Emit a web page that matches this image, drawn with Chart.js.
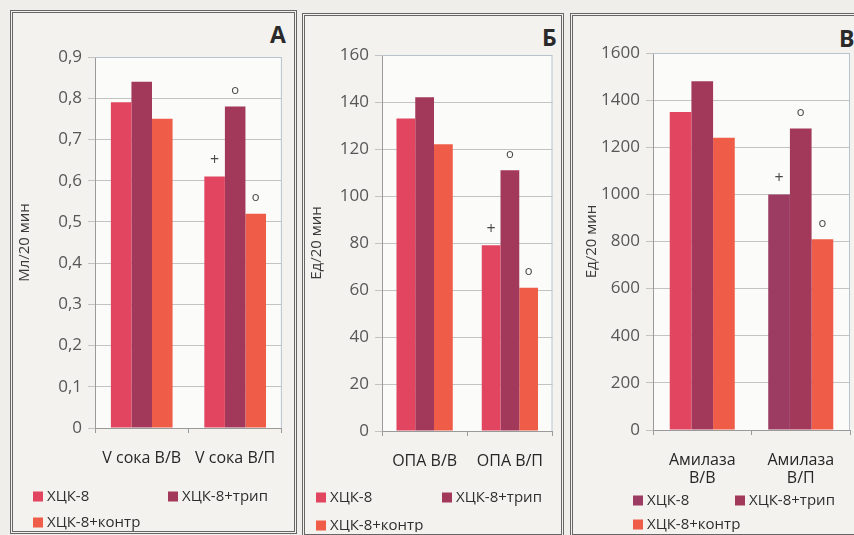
<!DOCTYPE html>
<html>
<head>
<meta charset="utf-8">
<script src="https://cdn.jsdelivr.net/npm/chart.js@4"></script>
<style>
  html, body { margin: 0; padding: 0; }
  body { width: 854px; height: 535px; background: #efeeeb; position: relative; overflow: hidden;
         font-family: "Open Sans", "Noto Sans", sans-serif; }
  .panel { position: absolute; box-sizing: border-box; border: 3px double #666; background: #f3f2ef; }
  .letter { position: absolute; font-weight: bold; font-size: 23px; color: #2a2a2a; }
  canvas { position: absolute; }
</style>
</head>
<body>
<div class="panel" style="left:10px;top:10px;width:287px;height:524px;"></div>
<div class="panel" style="left:302px;top:13px;width:262px;height:524px;"></div>
<div class="panel" style="left:570px;top:13px;width:300px;height:524px;"></div>
<div class="letter" style="left:270px;top:18px;">А</div>
<div class="letter" style="left:542px;top:21px;">Б</div>
<div class="letter" style="left:839px;top:22px;">В</div>
<canvas id="chA" width="280" height="518" style="left:14px;top:14px;"></canvas>
<canvas id="chB" width="255" height="515" style="left:306px;top:17px;"></canvas>
<canvas id="chC" width="279" height="515" style="left:575px;top:17px;"></canvas>
<script>
// Series names shared by all three panels
const seriesNames = ['ХЦК-8', 'ХЦК-8+трип', 'ХЦК-8+контр'];

// Panel А: volume of juice
const categoriesA = ['V сока В/В', 'V сока В/П'];
const hckA   = [0.79, 0.61];
const tripA  = [0.84, 0.78];
const contrA = [0.75, 0.52];
const marksHckA   = ['', '+'];
const marksTripA  = ['', 'o'];
const marksContrA = ['', 'o'];
const ticksA = { max: 0.9, step: 0.1 };

// Panel Б: ОПА
const categoriesB = ['ОПА В/В', 'ОПА В/П'];
const hckB   = [133, 79];
const tripB  = [142, 111];
const contrB = [122, 61];
const marksHckB   = ['', '+'];
const marksTripB  = ['', 'o'];
const marksContrB = ['', 'o'];
const ticksB = { max: 160, step: 20 };

// Panel В: amylase
const categoriesC = [['Амилаза', 'В/В'], ['Амилаза', 'В/П']];
const hckC   = [1350, 1000];
const tripC  = [1480, 1280];
const contrC = [1240, 810];
const marksHckC   = ['', '+'];
const marksTripC  = ['', 'o'];
const marksContrC = ['', 'o'];
const ticksC = { max: 1600, step: 200 };

const PINK = '#e2455f', PLUM = '#a3395a', CORAL = '#ef5c47', PLUM2 = '#9c3c62';
const FONT = '"Open Sans", "Noto Sans", sans-serif';

// Significance marks above bars, plus plot frame and custom two-column legend
const decorPlugin = {
  id: 'decor',
  beforeDraw(chart) {
    const a = chart.chartArea, ctx = chart.ctx;
    ctx.save();
    ctx.fillStyle = '#fbfbfa';
    ctx.fillRect(a.left, a.top, a.right - a.left, a.bottom - a.top);
    ctx.restore();
  },
  afterDraw(chart, args, opts) {
    const a = chart.chartArea, ctx = chart.ctx;
    ctx.save();
    ctx.strokeStyle = '#b9c3d0';
    ctx.lineWidth = 1;
    ctx.beginPath();
    ctx.moveTo(a.left, a.top + 0.5); ctx.lineTo(a.right - 0.5, a.top + 0.5); ctx.lineTo(a.right - 0.5, a.bottom);
    ctx.stroke();

    // marks
    ctx.fillStyle = '#4a4a4a';
    ctx.textAlign = 'center';
    ctx.textBaseline = 'middle';
    chart.data.datasets.forEach((ds, di) => {
      const meta = chart.getDatasetMeta(di);
      (ds.marks || []).forEach((m, i) => {
        if (!m) return;
        const bar = meta.data[i];
        ctx.font = (m === '+' ? '16px ' : '13px ') + FONT;
        ctx.fillText(m, bar.x, bar.y - 16);
      });
    });

    // legend
    const L = opts.legend;
    ctx.font = '15px ' + FONT;
    ctx.textAlign = 'left';
    const slots = [[L.x1, L.y1], [L.x2, L.y1], [L.x1, L.y2]];
    chart.data.datasets.forEach((ds, di) => {
      const [x, y] = slots[di];
      ctx.fillStyle = ds.legendColor || ds.backgroundColor;
      ctx.fillRect(x, y - 4.5, 10, 10);
      ctx.fillStyle = '#2e2e2e';
      ctx.fillText(ds.label, x + 14, y + 1);
    });
    ctx.restore();
  }
};

function makeChart(id, box, area, cats, values, marks, colors, legendColors, ticks, yTitle, titlePad, legend) {
  const xH = 70;
  const fmt = v => {
    if (Math.abs(v) < 1e-9) return '0';
    return ticks.step < 1 ? v.toFixed(1).replace('.', ',') : String(Math.round(v));
  };
  return new Chart(document.getElementById(id), {
    type: 'bar',
    data: {
      labels: cats,
      datasets: values.map((v, i) => ({
        label: seriesNames[i],
        data: v,
        marks: marks[i],
        backgroundColor: colors[i],
        legendColor: legendColors[i],
        borderWidth: 0,
        categoryPercentage: 0.66,
        barPercentage: 1.0
      }))
    },
    options: {
      responsive: false,
      animation: false,
      devicePixelRatio: 1,
      layout: {
        padding: {
          left: 0,
          top: area.t - box.y,
          right: box.x + box.w - area.r,
          bottom: box.y + box.h - area.b - xH
        }
      },
      plugins: {
        legend: { display: false },
        tooltip: { enabled: false },
        decor: { legend }
      },
      scales: {
        x: {
          afterFit(s) { s.height = xH; },
          grid: { drawOnChartArea: false, drawTicks: true, tickLength: 5, offset: true, color: '#9a9a9a' },
          border: { color: '#9a9a9a' },
          ticks: { color: '#262626', font: { family: FONT, size: 16, lineHeight: 1.15 }, padding: 16, maxRotation: 0, autoSkip: false }
        },
        y: {
          min: 0, max: ticks.max,
          afterFit(s) { s.width = area.l - box.x; },
          grid: { color: '#c3c3c3', tickLength: 7, drawTicks: true },
          border: { color: '#9a9a9a' },
          ticks: { stepSize: ticks.step, color: '#575757', font: { family: FONT, size: 17 }, padding: 6, callback: fmt },
          title: { display: true, text: yTitle, color: '#3a3a3a', font: { family: FONT, size: 15 }, padding: { top: titlePad, bottom: 0 } }
        }
      }
    },
    plugins: [decorPlugin]
  });
}

makeChart('chA',
  { x: 14, y: 14, w: 280, h: 518 }, { l: 95, r: 283, t: 57, b: 428 },
  categoriesA, [hckA, tripA, contrA], [marksHckA, marksTripA, marksContrA],
  [PINK, PLUM, CORAL], [PINK, PLUM, CORAL], ticksA, 'Мл/20 мин', 2,
  { x1: 19, x2: 154, y1: 482, y2: 508 });

makeChart('chB',
  { x: 306, y: 17, w: 255, h: 515 }, { l: 382, r: 553, t: 55, b: 431 },
  categoriesB, [hckB, tripB, contrB], [marksHckB, marksTripB, marksContrB],
  [PINK, PLUM, CORAL], [PINK, PLUM, CORAL], ticksB, 'Ед/20 мин', 2,
  { x1: 10, x2: 136, y1: 480, y2: 508 });

// In panel В the ХЦК-8 series is pink for В/В and plum for В/П
makeChart('chC',
  { x: 575, y: 17, w: 279, h: 515 }, { l: 653, r: 850, t: 53, b: 430 },
  categoriesC, [hckC, tripC, contrC], [marksHckC, marksTripC, marksContrC],
  [[PINK, PLUM2], PLUM, CORAL], [PLUM2, PLUM, CORAL], ticksC, 'Ед/20 мин', 8,
  { x1: 58, x2: 160, y1: 483, y2: 507 });
</script>
</body>
</html>
